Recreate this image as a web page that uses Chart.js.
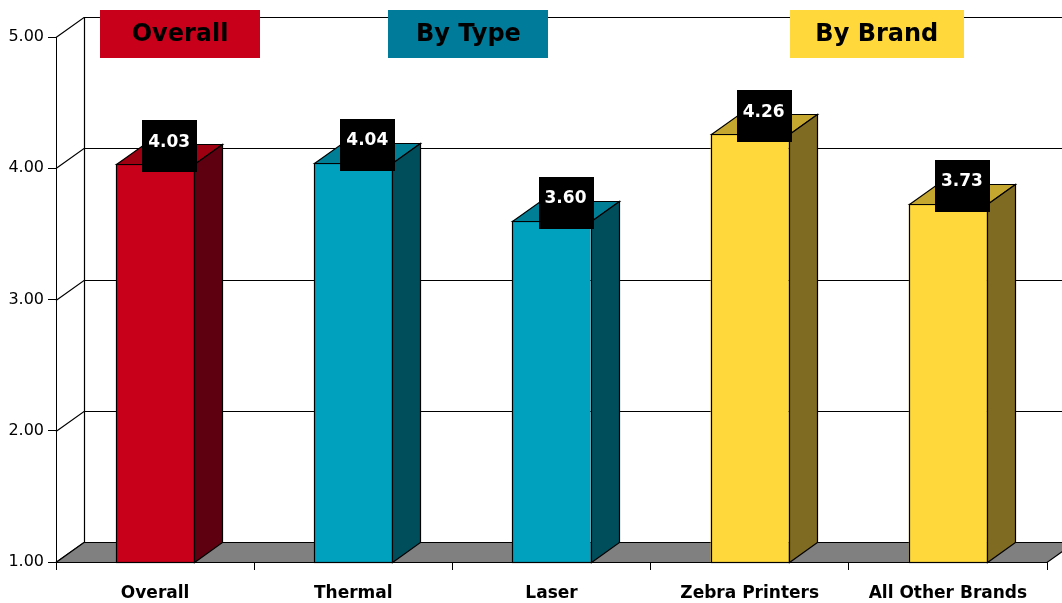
<!DOCTYPE html>
<html lang="en">
<head>
    <meta charset="utf-8">
    <script src="https://cdn.jsdelivr.net/npm/chart.js@4.4.1/dist/chart.umd.min.js"></script>
    <title>Satisfaction scores</title>
    <style>
        body { margin: 0; background: #fff; }
        #wrap { width: 1062px; height: 603px; }
    </style>
</head>
<body>
    <div id="wrap"><canvas id="chart"></canvas></div>
    <script type="text/javascript">
        // data
        const categories = ['Overall', 'Thermal', 'Laser', 'Zebra Printers', 'All Other Brands'];
        const scores = [4.03, 4.04, 3.60, 4.26, 3.73];
        const frontColors = ['#C8001A', '#00A0BF', '#00A0BF', '#FFD93B', '#FFD93B'];
        const topColors = ['#9E0012', '#007E96', '#007E96', '#C5A62F', '#C5A62F'];
        const sideColors = ['#5E0010', '#004E5C', '#004E5C', '#806B22', '#806B22'];
        const yTicks = [1, 2, 3, 4, 5];
        const sectionNames = ['Overall', 'By Type', 'By Brand'];
        const sectionFirst = [0, 1, 3];
        const sectionLast = [0, 2, 4];
        const sectionColors = ['#C8001A', '#007B9A', '#FFD93B'];

        // depth of the fake 3d
        const DX = 28, DY = -20;
        const FONT = '"DejaVu Sans", Verdana, sans-serif';

        const threeD = {
            id: 'threeD',
            beforeDatasetsDraw(chart) {
                const ctx = chart.ctx;
                const a = chart.chartArea;
                const y = chart.scales.y;
                ctx.save();
                ctx.strokeStyle = '#000';
                ctx.lineWidth = 1.2;
                // back wall grid + side diagonals
                yTicks.forEach(v => {
                    const py = Math.round(y.getPixelForValue(v)) + 0.5;
                    ctx.beginPath();
                    ctx.moveTo(a.left, py);
                    ctx.lineTo(a.left + DX, py + DY);
                    if (v !== yTicks[0]) ctx.lineTo(a.right + DX, py + DY);
                    ctx.stroke();
                });
                ctx.beginPath();
                ctx.moveTo(a.left + DX + 0.5, a.top + DY);
                ctx.lineTo(a.left + DX + 0.5, a.bottom + DY);
                ctx.stroke();
                // floor
                ctx.beginPath();
                ctx.moveTo(a.left, a.bottom + 0.5);
                ctx.lineTo(a.right, a.bottom + 0.5);
                ctx.lineTo(a.right + DX, a.bottom + DY + 0.5);
                ctx.lineTo(a.left + DX, a.bottom + DY + 0.5);
                ctx.closePath();
                ctx.fillStyle = '#808080';
                ctx.fill();
                ctx.stroke();
                ctx.restore();
            },
            afterDatasetsDraw(chart) {
                const ctx = chart.ctx;
                const meta = chart.getDatasetMeta(0);
                const bottom = chart.chartArea.bottom;
                ctx.save();
                ctx.strokeStyle = '#000';
                ctx.lineWidth = 1.2;
                meta.data.forEach((bar, i) => {
                    const p = bar.getProps(['x', 'y', 'width'], true);
                    const l = Math.round(p.x - p.width / 2) + 0.5;
                    const r = Math.round(p.x + p.width / 2) + 0.5;
                    const t = Math.round(p.y) + 0.5;
                    const b = Math.round(bottom) + 0.5;
                    // front outline
                    ctx.strokeRect(l, t, r - l, b - t);
                    // top face
                    ctx.beginPath();
                    ctx.moveTo(l, t);
                    ctx.lineTo(l + DX, t + DY);
                    ctx.lineTo(r + DX, t + DY);
                    ctx.lineTo(r, t);
                    ctx.closePath();
                    ctx.fillStyle = topColors[i];
                    ctx.fill();
                    ctx.stroke();
                    // side face
                    ctx.beginPath();
                    ctx.moveTo(r, t);
                    ctx.lineTo(r + DX, t + DY);
                    ctx.lineTo(r + DX, b + DY);
                    ctx.lineTo(r, b);
                    ctx.closePath();
                    ctx.fillStyle = sideColors[i];
                    ctx.fill();
                    ctx.stroke();
                    // value box
                    const cx = p.x + DX / 2;
                    const cy = p.y - 18;
                    ctx.fillStyle = '#000';
                    ctx.fillRect(Math.round(cx - 27), Math.round(cy - 26), 55, 52);
                    ctx.fillStyle = '#fff';
                    ctx.font = 'bold 17px ' + FONT;
                    ctx.textAlign = 'center';
                    ctx.textBaseline = 'middle';
                    ctx.fillText(scores[i].toFixed(2), cx, cy - 4);
                });
                ctx.restore();
            },
            afterDraw(chart) {
                const ctx = chart.ctx;
                const x = chart.scales.x;
                const boxW = [160, 160, 174];
                const shift = [25, 16, 28];
                ctx.save();
                sectionNames.forEach((name, k) => {
                    const cx = (x.getPixelForValue(sectionFirst[k]) + x.getPixelForValue(sectionLast[k])) / 2 + shift[k];
                    ctx.fillStyle = sectionColors[k];
                    ctx.fillRect(Math.round(cx - boxW[k] / 2), 10, boxW[k], 48);
                    ctx.fillStyle = '#000';
                    ctx.font = 'bold 24px ' + FONT;
                    ctx.textAlign = 'center';
                    ctx.textBaseline = 'middle';
                    ctx.fillText(name, cx, 35);
                });
                ctx.restore();
            }
        };

        new Chart(document.getElementById('chart'), {
            type: 'bar',
            data: {
                labels: categories,
                datasets: [{
                    data: scores,
                    backgroundColor: frontColors,
                    borderWidth: 0,
                    categoryPercentage: 1,
                    barPercentage: 0.394,
                }],
            },
            options: {
                responsive: true,
                maintainAspectRatio: false,
                animation: false,
                layout: { padding: { top: 37, right: 15, left: 0, bottom: 0 } },
                plugins: {
                    legend: { display: false },
                    tooltip: { enabled: false },
                },
                scales: {
                    x: {
                        afterFit: s => { s.height = 41; },
                        grid: { offset: true, drawOnChartArea: false, tickLength: 8, color: '#000' },
                        border: { color: '#000' },
                        ticks: { color: '#000', padding: 13, font: { family: FONT, size: 17, weight: 'bold' } },
                    },
                    y: {
                        min: 1, max: 5,
                        afterFit: s => { s.width = 56; },
                        grid: { drawOnChartArea: false, tickLength: 8, color: '#000' },
                        border: { color: '#000' },
                        ticks: {
                            stepSize: 1, color: '#000', padding: 4,
                            font: { family: FONT, size: 16 },
                            callback: v => v.toFixed(2),
                        },
                    },
                },
            },
            plugins: [threeD],
        });
    </script>
</body>
</html>
